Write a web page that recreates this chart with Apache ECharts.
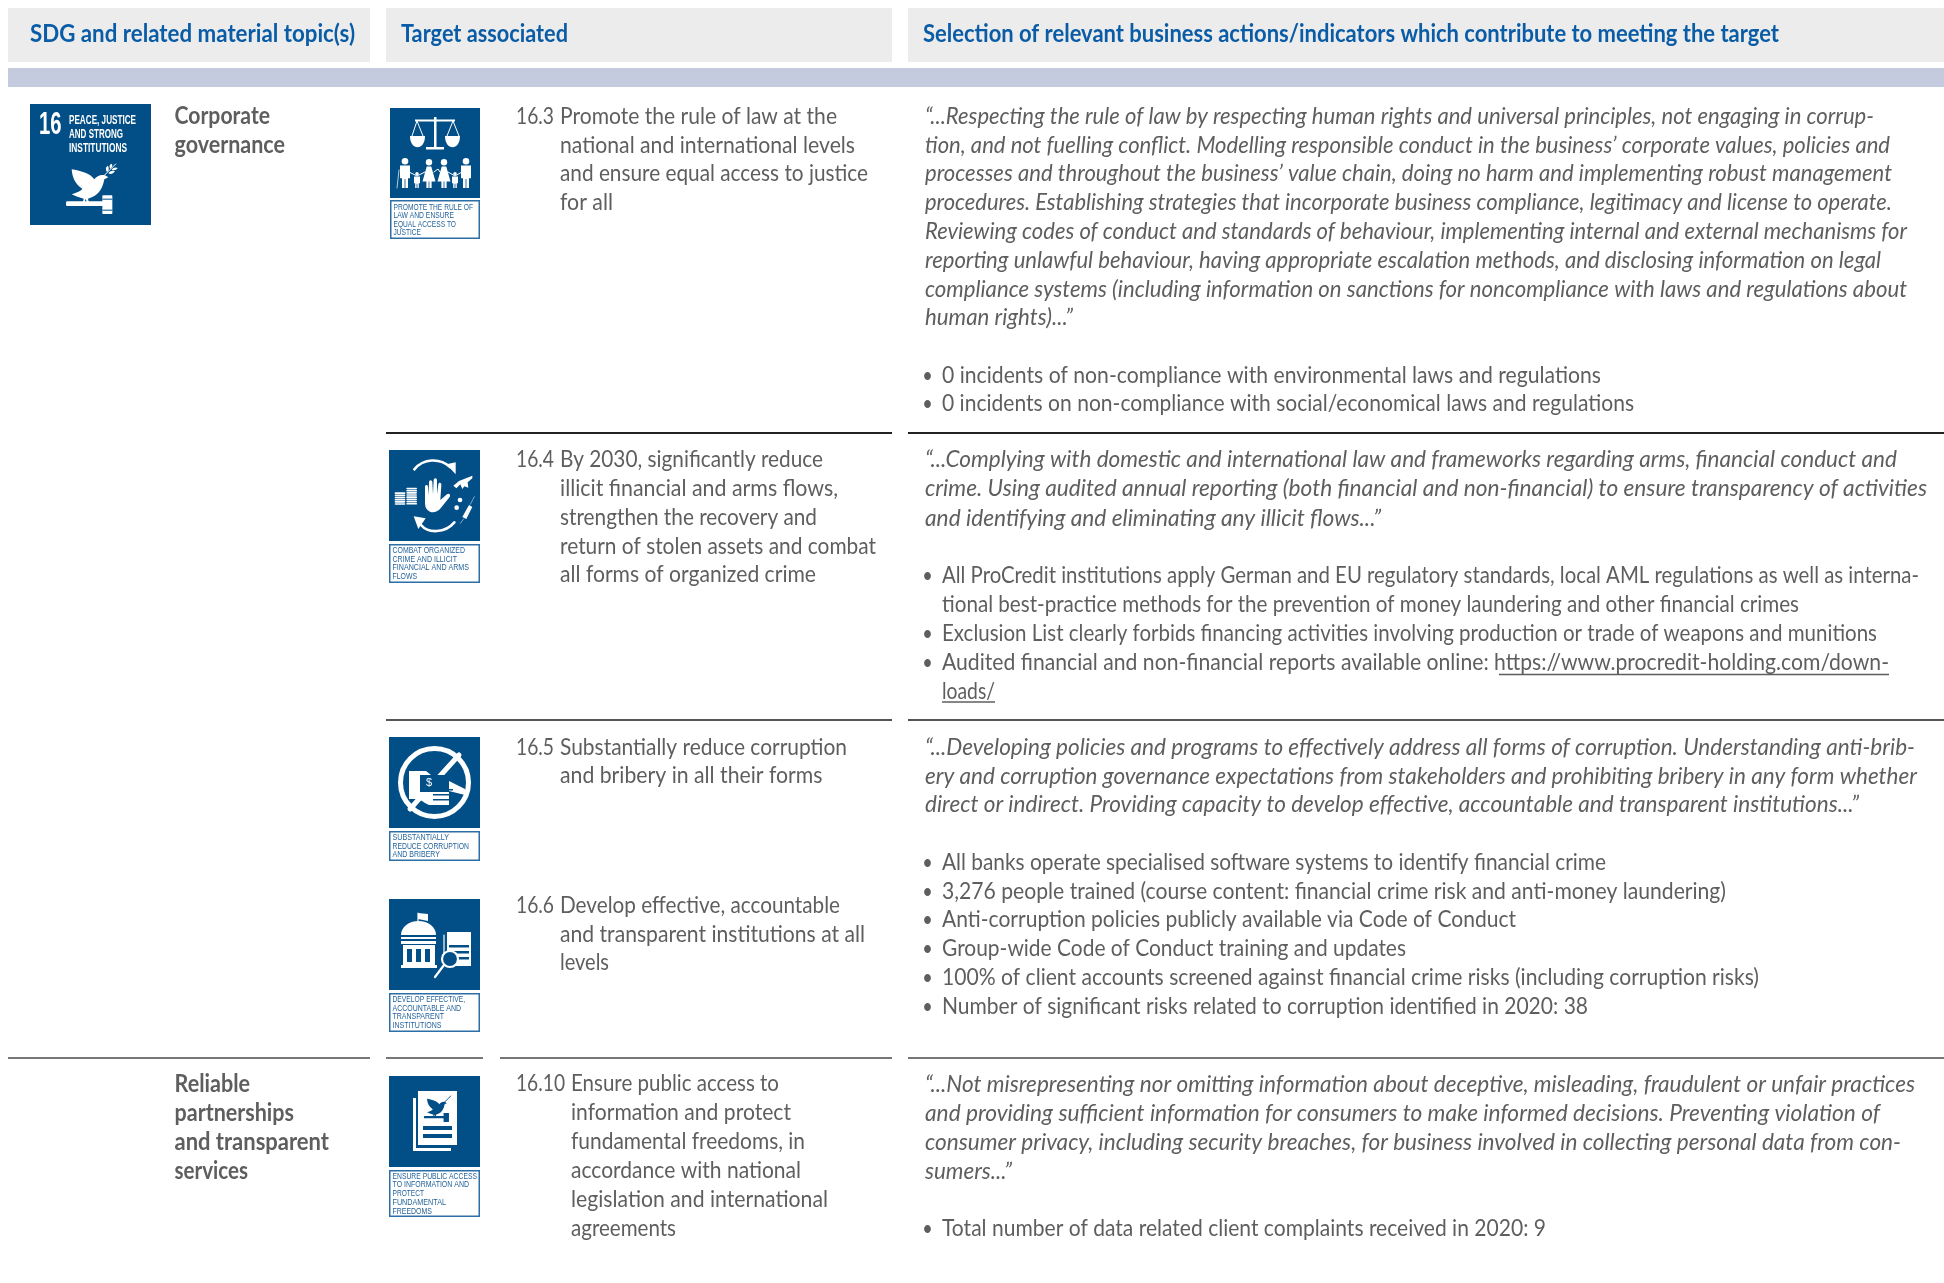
<!DOCTYPE html>
<html><head><meta charset="utf-8">
<style>html,body{margin:0;padding:0;background:#fff}#c{width:1944px;height:1283px}</style>
<script src="https://cdn.jsdelivr.net/npm/echarts@6/dist/echarts.min.js"></script>
</head><body><div id="c"></div>
<script>
// ---------- content ----------
const headers = ["SDG and related material topic(s)", "Target associated", "Selection of relevant business actions/indicators which contribute to meeting the target"];
const sdgTitle = ["PEACE, JUSTICE", "AND STRONG", "INSTITUTIONS"];
const topicCorporate = ["Corporate", "governance"];
const topicReliable = ["Reliable", "partnerships", "and transparent", "services"];

const target163 = ["Promote the rule of law at the", "national and international levels", "and ensure equal access to justice", "for all"];
const target164 = ["By 2030, significantly reduce", "illicit financial and arms flows,", "strengthen the recovery and", "return of stolen assets and combat", "all forms of organized crime"];
const target165 = ["Substantially reduce corruption", "and bribery in all their forms"];
const target166 = ["Develop effective, accountable", "and transparent institutions at all", "levels"];
const target1610 = ["Ensure public access to", "information and protect", "fundamental freedoms, in", "accordance with national", "legislation and international", "agreements"];

const quote1 = ["\u201C...Respecting the rule of law by respecting human rights and universal principles, not engaging in corrup-",
 "tion, and not fuelling conflict. Modelling responsible conduct in the business\u2019 corporate values, policies and",
 "processes and throughout the business\u2019 value chain, doing no harm and implementing robust management",
 "procedures. Establishing strategies that incorporate business compliance, legitimacy and license to operate.",
 "Reviewing codes of conduct and standards of behaviour, implementing internal and external mechanisms for",
 "reporting unlawful behaviour, having appropriate escalation methods, and disclosing information on legal",
 "compliance systems (including information on sanctions for noncompliance with laws and regulations about",
 "human rights)...\u201D"];
const bullets1 = ["0 incidents of non-compliance with environmental laws and regulations", "0 incidents on non-compliance with social/economical laws and regulations"];
const quote2 = ["\u201C...Complying with domestic and international law and frameworks regarding arms, financial conduct and",
 "crime. Using audited annual reporting (both financial and non-financial) to ensure transparency of activities",
 "and identifying and eliminating any illicit flows...\u201D"];
const bullets2 = ["All ProCredit institutions apply German and EU regulatory standards, local AML regulations as well as interna-",
 "tional best-practice methods for the prevention of money laundering and other financial crimes",
 "Exclusion List clearly forbids financing activities involving production or trade of weapons and munitions",
 "Audited financial and non-financial reports available online: https://www.procredit-holding.com/down-",
 "loads/"];
const quote3 = ["\u201C...Developing policies and programs to effectively address all forms of corruption. Understanding anti-brib-",
 "ery and corruption governance expectations from stakeholders and prohibiting bribery in any form whether",
 "direct or indirect. Providing capacity to develop effective, accountable and transparent institutions...\u201D"];
const bullets3 = ["All banks operate specialised software systems to identify financial crime",
 "3,276 people trained (course content: financial crime risk and anti-money laundering)",
 "Anti-corruption policies publicly available via Code of Conduct",
 "Group-wide Code of Conduct training and updates",
 "100% of client accounts screened against financial crime risks (including corruption risks)",
 "Number of significant risks related to corruption identified in 2020: 38"];
const quote4 = ["\u201C...Not misrepresenting nor omitting information about deceptive, misleading, fraudulent or unfair practices",
 "and providing sufficient information for consumers to make informed decisions. Preventing violation of",
 "consumer privacy, including security breaches, for business involved in collecting personal data from con-",
 "sumers...\u201D"];
const bullets4 = ["Total number of data related client complaints received in 2020: 9"];

const label163 = ["PROMOTE THE RULE OF", "LAW AND ENSURE", "EQUAL ACCESS TO", "JUSTICE"];
const label164 = ["COMBAT ORGANIZED", "CRIME AND ILLICIT", "FINANCIAL AND ARMS", "FLOWS"];
const label165 = ["SUBSTANTIALLY", "REDUCE CORRUPTION", "AND BRIBERY"];
const label166 = ["DEVELOP EFFECTIVE,", "ACCOUNTABLE AND", "TRANSPARENT", "INSTITUTIONS"];
const label1610 = ["ENSURE PUBLIC ACCESS", "TO INFORMATION AND", "PROTECT", "FUNDAMENTAL", "FREEDOMS"];

// ---------- layout ----------
const BLUE = '#024e87', HEAD = '#0a5ca6', TXT = '#5e5e5e', FAM = 'Lato', BODY = 24;
const cv = document.createElement('canvas').getContext('2d');
const els = [];
function txt(s, x, y, endX, o) {
  o = o || {};
  const size = o.size || BODY, w = o.weight || 'normal', it = o.italic ? 'italic' : 'normal', fam = o.fam || FAM;
  cv.font = `${it} ${w} ${size}px "${fam}"`;
  const m = cv.measureText(s).width;
  els.push({type:'text', x, y, scaleX: (endX - x) / m,
    style:{text:s, fontSize:size, fontWeight:w, fontStyle:it, fontFamily:fam, fill:o.fill||TXT, textAlign:'left', textVerticalAlign:'middle'}});
}
function rect(x,y,w,h,fill,extra){ els.push({type:'rect', shape:{x,y,width:w,height:h}, style:Object.assign({fill},extra||{})}); }
function hline(x1,x2,y,c,lw){ els.push({type:'line', shape:{x1,y1:y,x2,y2:y}, style:{stroke:c,lineWidth:lw||2}}); }
function block(lines, x, ys, ends, o){ lines.forEach((s,i)=>txt(s,x,ys[i],ends[i],o)); }
function bullets(lines, ys, ends, isCont){ lines.forEach((s,i)=>{
  if(!(isCont&&isCont[i])) els.push({type:'ellipse', shape:{cx:927.5,cy:ys[i]+1,rx:3.4,ry:4}, style:{fill:TXT}});
  txt(s,942,ys[i],ends[i]);
});}
function labelBox(x,y,w,h,lines,ys,ends){
  els.push({type:'rect', shape:{x:x+.75,y:y+.75,width:w-1.5,height:h-1.5}, style:{fill:'#fff',stroke:'#2c6fa6',lineWidth:1.5}});
  lines.forEach((s,i)=>txt(s,x+3.5,ys[i],x+ends[i],{size:9.3,fill:'#1f5f98',fam:'Liberation Sans'}));
}
function icon(x,y,s,children){ els.push({type:'group',x,y,scaleX:s,scaleY:s,children}); }
const W = {fill:'#fff'}, B = {fill:BLUE};
const P = (d,st)=>({type:'path',shape:{pathData:d},style:st||W});
const R = (x,y,w,h,st,r)=>({type:'rect',shape:{x,y,width:w,height:h,r:r||0},style:st||W});
const C = (cx,cy,r,st)=>({type:'circle',shape:{cx,cy,r},style:st||W});
const L = (d,lw,c)=>({type:'path',shape:{pathData:d},style:{fill:'none',stroke:c||'#fff',lineWidth:lw,lineCap:'round'}});

// header
rect(8,8,362,54,'#ececec'); rect(386,8,506,54,'#ececec'); rect(908,8,1036,54,'#ececec');
rect(8,68,1936,19,'#c5cbde');
txt(headers[0],30,34,355,{size:25,weight:'bold',fill:HEAD});
txt(headers[1],401,34,568,{size:25,weight:'bold',fill:HEAD});
txt(headers[2],923,34,1779,{size:25,weight:'bold',fill:HEAD});

// rules
hline(386,892,433,'#222'); hline(908,1944,433,'#222');
hline(386,892,720,'#555'); hline(908,1944,720,'#555');
hline(8,370,1058,'#777'); hline(386,483,1058,'#777'); hline(500,892,1058,'#777'); hline(908,1944,1058,'#777');

// topics
block(topicCorporate,174.5,[116,145],[270,285],{weight:'bold'});
block(topicReliable,174.5,[1084,1113.5,1142,1171],[250,294,329,248],{weight:'bold'});

// targets
txt('16.3',516,116,554); block(target163,560,[116,145,173,202],[837,855,868,613]);
txt('16.4',516,459,554); block(target164,560,[459,488,517,546,574],[823,838,817,876,816]);
txt('16.5',516,747,554); block(target165,560,[747,775],[847,822.5]);
txt('16.6',516,905,554); block(target166,560,[905,934,962],[840,865,609]);
txt('16.10',516,1083,565); block(target1610,571,[1083,1112,1141,1170,1199,1228],[779,791,805,801,828,676]);

// column three
block(quote1,925,[116,145,173,202,231,260,289,317],[1874,1890,1892,1892,1907,1881,1907,1073],{italic:true});
bullets(bullets1,[375,403],[1601,1634]);
block(quote2,925,[459,488.5,518],[1897,1927,1381],{italic:true});
bullets(bullets2,[575,604,633,662,691],[1919,1799,1877,1889,995],[0,1,0,0,1]);
hline(1499,1889,674.5,TXT,1.4); hline(942,995,702,TXT,1.4);
block(quote3,925,[747.5,776,804],[1915,1917,1859],{italic:true});
bullets(bullets3,[862,891,919,948,977,1006],[1606,1726,1516,1406,1759,1588]);
block(quote4,925,[1084,1113,1142,1171],[1915,1880,1901,1012],{italic:true});
bullets(bullets4,[1228],[1546]);

// SDG 16 icon
rect(30,104,121,121,BLUE);
txt('16',39,125.5,61.5,{size:31,weight:'bold',fill:'#fff',fam:'Liberation Sans'});
txt(sdgTitle[0],69,120,136,{size:13.5,weight:'bold',fill:'#fff',fam:'Liberation Sans'});
txt(sdgTitle[1],69,134.5,123,{size:13.5,weight:'bold',fill:'#fff',fam:'Liberation Sans'});
txt(sdgTitle[2],69,148.5,127,{size:13.5,weight:'bold',fill:'#fff',fam:'Liberation Sans'});
const dove = 'M140 208C165 212 196 220 208 238C215 228 228 222 240 226L250 232L238 238C234 260 224 284 200 292L189 296L192 310L187 310L182 296L178 310L173 310L176 296C160 292 148 287 140 283C152 278 168 274 172 266C152 254 142 235 140 208Z';
icon(25,100,1/3,[P(dove),
  L('M238 226L272 192',3),
  P('M246 216C240 206 243 200 249 197C253 205 252 211 246 216ZM256 206C251 197 255 192 261 191C263 197 261 203 256 206ZM250 220C256 212 264 211 270 214C265 221 257 224 250 220ZM260 209C265 202 272 201 278 204C273 211 267 212 260 209Z'),
  R(123,304,112,14,W,4), R(232,286,30,56,W,2), R(232,296,30,3,B), R(232,329,30,3,B)
]);

// 16.3 icon
function person(cx,top,h,wide,dress){
  const hr = h*0.11, bw = wide, t = top+hr*2+1, b = top+h, out = [C(cx,top+hr,hr)];
  if(dress) out.push(P(`M${cx-bw*.35} ${t}L${cx+bw*.35} ${t}L${cx+bw} ${t+h*.52}L${cx+bw*.4} ${t+h*.52}L${cx+bw*.4} ${b}L${cx+.4} ${b}L${cx+.4} ${t+h*.52}L${cx-.4} ${t+h*.52}L${cx-.4} ${b}L${cx-bw*.4} ${b}L${cx-bw*.4} ${t+h*.52}L${cx-bw} ${t+h*.52}Z`));
  else out.push(P(`M${cx-bw} ${t}L${cx+bw} ${t}L${cx+bw} ${t+h*.42}L${cx+bw*.6} ${t+h*.42}L${cx+bw*.6} ${b}L${cx+.4} ${b}L${cx+.4} ${t+h*.45}L${cx-.4} ${t+h*.45}L${cx-.4} ${b}L${cx-bw*.6} ${b}L${cx-bw*.6} ${t+h*.42}L${cx-bw} ${t+h*.42}Z`));
  return out;
}
rect(390,108,90,90,BLUE);
icon(390,108,1,[].concat(
  [R(44,9,2.5,31), R(36,39,18,2.5), R(25,11.5,40,2),
   L('M27 13L22 28M27 13L33 28M63 13L57 28M63 13L69 28',1),
   P('M20 28L35 28C35 43 20 43 20 28Z'), P('M55 28L70 28C70 43 55 43 55 28Z'),
   L('M19 64L27 68L35 64M44 64L48 61L50 64M58 64L65 68L72 64',1)],
  person(15,50,30,5,false), person(27,64,16,3,false), person(39,51,29,6.5,true),
  person(54,51,29,6.5,true), person(65,64,16,3,false), person(76,50,30,5,false),
  [L('M9 62L7 80',.7)]
));
labelBox(390,200,90,39,label163,[207,215.5,224,232.5],[83,64,66,31]);

// 16.4 icon
rect(389,450,91,91,BLUE);
function coins(x,y,n){ const o=[]; for(let i=0;i<n;i++) o.push(R(x,y+i*6.5,32,5,W,2.5)); return o; }
icon(385,445,1/3,[].concat(
  [L('M88 73C115 40 165 38 195 66',8), P('M184 58L212 52L212 88Z'),
   L('M208 232C180 265 130 266 108 240',8), P('M86 214L122 220L100 252Z'),
   P('M120 175L120 125C120 118 129 118 129 125L131 150L132 112C132 104 142 104 142 112L144 148L146 106C146 98 156 98 156 106L156 148L160 118C161 110 170 112 169 120L166 165L186 148C192 143 198 150 194 156L165 192C158 200 145 204 135 200C125 196 120 188 120 175Z'),
   P('M205 122L222 108L262 92L262 100L248 112L250 128L238 124L232 132L226 118L214 130Z'),
   C(225,165,7), C(215,188,7),
   P('M232 216L252 180L262 186L244 222Z'), L('M236 222L226 235M256 178L268 155',1.5)],
  coins(29,142,6), coins(64,128,8)
));
labelBox(389,544,91,39,label164,[550.5,559,567.5,576],[76,68,80,28]);

// 16.5 icon
rect(389,737,91,91,BLUE);
icon(389,737,1,[
  {type:'circle',shape:{cx:45.5,cy:45.5,r:34},style:{fill:'none',stroke:'#fff',lineWidth:5}},
  L('M70 18L21 72',5),
  P('M20 62L20 34L37 34L42 38L60 38L60 44L76 52L76 58L60 54L60 68L40 68L36 66L30 62Z'),
  R(31,38,29,17,B),
  {type:'text',x:40,y:46,style:{text:'$',fontSize:11,fontFamily:'Liberation Sans',fill:'#fff',textAlign:'center',textVerticalAlign:'middle'}},
  R(44,52,20,1.5,B), R(44,57,20,1.5,B), R(44,62,20,1.5,B)
]);
labelBox(389,831,91,30,label165,[837.5,846,854.5],[60,80,51]);

// 16.6 icon
rect(389,899,91,91,BLUE);
icon(389,899,1,[
  L('M29 22L29 14',1.2), P('M29 14L39 15L39 22L29 20Z'),
  P('M12 36C12 28 20 22 29.5 22C39 22 47 28 47 36Z'),
  R(12,38,35,2), R(12,42,35,3),
  P('M14 46L46 46L46 66L14 66ZM18 50L18 63L23 63L23 50ZM27 50L27 63L32 63L32 50ZM36 50L36 63L41 63L41 50Z'),
  R(12,66,36,3),
  L('M55 36L55 56',1.2),
  R(58,33,24,34), R(60,46,20,2.5,B), R(60,52,20,2.5,B), R(60,58,20,2.5,B),
  {type:'circle',shape:{cx:61,cy:60,r:8},style:{fill:BLUE,stroke:'#fff',lineWidth:2.2}},
  L('M55 66L46 78',2.2)
]);
labelBox(389,993,91,39,label166,[999,1008,1016.5,1025],[76,72,55,52.5]);

// 16.10 icon
rect(389,1076,91,91,BLUE);
icon(389,1076,1,[
  P('M24 22L27 22L27 72L62 72L62 75L24 75Z'),
  R(29,15,39,54),
  {type:'group',x:12.8,y:-14.6,scaleX:.18,scaleY:.18,children:[
    P(dove,B), L('M238 226L272 192',5,BLUE),
    R(123,304,112,12,B,3), R(232,286,30,50,B,2)
  ]},
  R(34,50,29,4,B), R(34,58,29,4,B)
]);
labelBox(389,1170,91,47,label1610,[1176,1184.5,1193.5,1202,1211],[88,80,35,57,43]);

const chart = echarts.init(document.getElementById('c'), null, {renderer:'canvas'});
chart.setOption({
  animation:false, backgroundColor:'#fff',
  series:[{type:'custom', coordinateSystem:'none', silent:true, data:[[0]],
    renderItem:()=>({type:'group',children:els})}]
});
</script></body></html>
